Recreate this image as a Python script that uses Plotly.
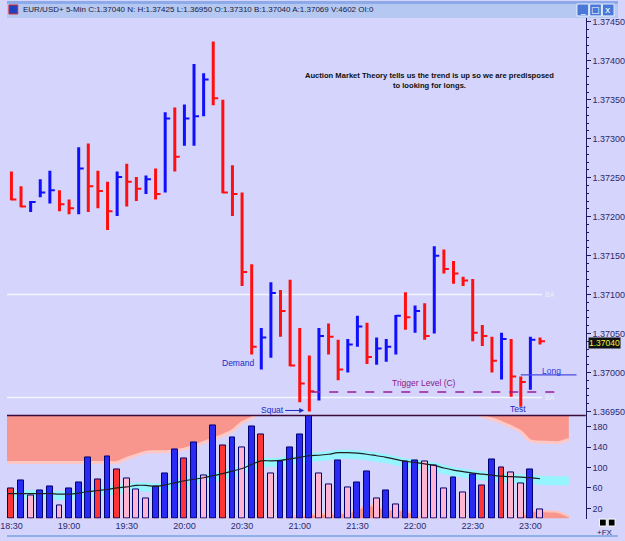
import plotly.graph_objects as go
import pandas as pd

# ---------------- data ----------------
start = pd.Timestamp("2011-05-24 18:30")
bar_step = pd.Timedelta(minutes=5)

high = [1.37258, 1.37239, 1.37220, 1.37248, 1.37259, 1.37234, 1.37222, 1.37289, 1.37294, 1.37259,
        1.37245, 1.37258, 1.37268, 1.37251, 1.37253, 1.37262, 1.37334, 1.37340, 1.37344, 1.37396,
        1.37384, 1.37425, 1.37350, 1.37266, 1.37231, 1.37139, 1.37057, 1.37116, 1.37106, 1.37119,
        1.37057, 1.37022, 1.37057, 1.37063, 1.37042, 1.37043, 1.37073, 1.37064, 1.37045, 1.37043,
        1.37074, 1.37103, 1.37086, 1.37089, 1.37162, 1.37158, 1.37143, 1.37123, 1.37120, 1.37061,
        1.37046, 1.37051, 1.37043, 1.36995, 1.37046, 1.37045]
low = [1.37221, 1.37212, 1.37206, 1.37225, 1.37217, 1.37207, 1.37203, 1.37203, 1.37206, 1.37211,
       1.37183, 1.37201, 1.37213, 1.37220, 1.37229, 1.37222, 1.37231, 1.37258, 1.37291, 1.37291,
       1.37329, 1.37343, 1.37230, 1.37201, 1.37111, 1.37023, 1.37004, 1.37019, 1.37046, 1.37008,
       1.36962, 1.36950, 1.36964, 1.37023, 1.36990, 1.37000, 1.37033, 1.37011, 1.37010, 1.37014,
       1.37023, 1.37055, 1.37051, 1.37042, 1.37050, 1.37127, 1.37114, 1.37111, 1.37040, 1.37034,
       1.37000, 1.36991, 1.36969, 1.36956, 1.36978, 1.37036]
close = [1.37222, 1.37213, 1.37219, 1.37231, 1.37234, 1.37216, 1.37211, 1.37262, 1.37239, 1.37233,
         1.37207, 1.37251, 1.37245, 1.37236, 1.37248, 1.37229, 1.37326, 1.37277, 1.37326, 1.37329,
         1.37376, 1.37352, 1.37231, 1.37229, 1.37129, 1.37033, 1.37045, 1.37102, 1.37079, 1.37009,
         1.36986, 1.36976, 1.37047, 1.37046, 1.37004, 1.37036, 1.37059, 1.37020, 1.37031, 1.37033,
         1.37073, 1.37071, 1.37079, 1.37047, 1.37150, 1.37133, 1.37127, 1.37118, 1.37051, 1.37047,
         1.37015, 1.37043, 1.36995, 1.36988, 1.37042, 1.37040]

volume = [58, 75, 45, 55, 63, 26, 58, 71, 119, 76,
          121, 97, 79, 57, 39, 63, 88, 136, 117, 150,
          84, 182, 143, 158, 139, 180, 164, 88, 112, 139,
          164, 210, 88, 67, 113, 60, 70, 92, 39, 55,
          27, 112, 113, 111, 104, 59, 80, 51, 86, 64,
          116, 100, 90, 68, 97, 18]
volume_ma = [49, 49, 49, 49, 49, 48, 48, 50, 53, 55,
             57, 60, 62, 65, 65, 63, 66, 70, 74, 77,
             80, 84, 88, 93, 98, 106, 113, 113, 114, 117,
             120, 123, 124, 126, 129, 129, 128, 126, 123, 120,
             116, 112, 110, 107, 104, 99, 95, 92, 89, 87,
             85, 83, 82, 81, 80, 78]
# glow band around the average (extends 3 bars further)
volume_glow = [47, 47, 47, 46, 46, 45, 45, 47, 50, 52,
               54, 57, 59, 62, 62, 60, 63, 67, 71, 74,
               77, 81, 85, 90, 95, 103, 110, 110, 111, 114,
               117, 120, 121, 123, 126, 126, 125, 123, 120, 117,
               113, 109, 107, 104, 101, 96, 92, 89, 86, 84,
               82, 80, 79, 78, 77, 75, 74, 74, 74]
# upper envelope (shaded from top down to it), 210 = above panel
band_upper = [110, 110, 110, 110, 110, 110, 110, 110, 110, 110,
              110, 110, 118, 124, 130, 131, 131, 133, 136, 142,
              149, 156, 163, 172, 188, 197, 210, 210, 210, 210,
              210, 210, 210, 210, 210, 210, 210, 210, 210, 210,
              210, 210, 210, 210, 210, 210, 210, 210, 210, 200,
              195, 188, 180, 170, 152, 150, 149, 149, 155]
# lower envelope (shaded from zero up to it), -5 = below panel
band_lower = [-5, -5, -5, -5, -5, -5, -5, -5, -5, -5,
              -5, -5, -5, -5, -5, -5, -5, -5, -5, -5,
              -5, -5, -5, -5, -5, -5, -5, -5, -5, 4,
              6, 8, 9, 9, 10, 12, 18, 26, 24, 18,
              17, 15, 8, -5, -5, -5, -5, -5, -5, -5,
              -5, -5, -5, 4, 14, 15, 14, 12, 4]

ba_levels = [1.37100, 1.36968]
trigger_level = 1.36975
long_level = 1.36997
price_ticks = [1.36950, 1.37000, 1.37050, 1.37100, 1.37150, 1.37200, 1.37250, 1.37300, 1.37350, 1.37400, 1.37450]
volume_ticks = [20, 60, 100, 140, 180]
header_text = "EUR/USD+ 5-Min C:1.37040 N: H:1.37425 L:1.36950 O:1.37310 B:1.37040 A:1.37069 V:4602 OI:0"

# ---------------- derived ----------------
n = len(close)
times = [start + bar_step * i for i in range(n)]
band_times = [start + bar_step * i for i in range(len(band_upper))]
W, H = 625, 541
x_lo = start - pd.Timedelta(minutes=2.3)
x_hi = start + pd.Timedelta(minutes=298.8)


def px(x):
    return x / W


def py(y):
    return 1 - y / H


def extend_left(xs, ys):
    # carry the first value to the left edge of the plot
    return [x_lo] + list(xs), [ys[0]] + list(ys)


RED = "#FF1010"
BLUE = "#1010FF"

up = [False] + [close[i] >= close[i - 1] for i in range(1, n)]

fig = go.Figure()

# price bars
tick_len = pd.Timedelta(minutes=2.6)
for color, flag in ((RED, False), (BLUE, True)):
    vx, vy, tx, ty = [], [], [], []
    for i in range(n):
        if up[i] != flag:
            continue
        vx += [times[i], times[i], None]
        vy += [low[i], high[i], None]
        tx += [times[i], times[i] + tick_len, None]
        ty += [close[i], close[i], None]
    fig.add_trace(go.Scatter(x=vx, y=vy, mode="lines", line=dict(color=color, width=3),
                             xaxis="x", yaxis="y", hoverinfo="skip", showlegend=False))
    fig.add_trace(go.Scatter(x=tx, y=ty, mode="lines", line=dict(color=color, width=2),
                             xaxis="x", yaxis="y", hoverinfo="skip", showlegend=False))

# volume panel background layers (y2)
VTOP = 210
bx_up, by_up = extend_left(band_times, band_upper)
bx_lo, by_lo = extend_left(band_times, band_lower)
gx, gy = extend_left(band_times, volume_glow)
fig.add_trace(go.Scatter(x=bx_up, y=[VTOP] * len(bx_up), mode="lines",
                         line=dict(width=0), xaxis="x", yaxis="y2", showlegend=False, hoverinfo="skip"))
fig.add_trace(go.Scatter(x=bx_up, y=by_up, mode="lines", fill="tonexty",
                         fillcolor="#F8968E", line=dict(color="#FFC8C4", width=3, shape="spline"),
                         xaxis="x", yaxis="y2", showlegend=False, hoverinfo="skip"))
fig.add_trace(go.Scatter(x=bx_lo, y=by_lo, mode="lines", fill="tozeroy",
                         fillcolor="#F8968E", line=dict(color="#FFC0B8", width=2, shape="spline"),
                         xaxis="x", yaxis="y2", showlegend=False, hoverinfo="skip"))
fig.add_trace(go.Scatter(x=gx, y=gy, mode="lines",
                         line=dict(color="rgba(130,255,255,0.75)", width=9, shape="spline"),
                         xaxis="x", yaxis="y2", showlegend=False, hoverinfo="skip"))

# volume bars (y3 overlays y2, drawn above)
vcolors = []
for i in range(n):
    if i == 0:
        vcolors.append("#FF3535")
    elif volume[i] > volume[i - 1]:
        vcolors.append("#2A2AF5")
    elif i >= 2 and volume[i] > volume[i - 2]:
        vcolors.append("#FF3535")
    else:
        vcolors.append("#FFB4D2")
fig.add_trace(go.Bar(x=times, y=volume, width=183000, marker=dict(color=vcolors, line=dict(color="#000070", width=1)),
                     xaxis="x", yaxis="y3", showlegend=False, hoverinfo="skip"))
mx, my = extend_left(times, volume_ma)
fig.add_trace(go.Scatter(x=mx, y=my, mode="lines", line=dict(color="#202020", width=1.2, shape="spline"),
                         xaxis="x", yaxis="y3", showlegend=False, hoverinfo="skip"))

# ---------------- layout ----------------
p_lo, p_hi = 1.369449, 1.374551
AX = "#1A1A60"
font_ax = dict(family="Liberation Sans, Arial", size=9, color="#2A2A70")

fig.update_layout(
    width=W, height=H, margin=dict(l=0, r=0, t=0, b=0),
    paper_bgcolor="#D4D4FC", plot_bgcolor="#D4D4FC",
    bargap=0, showlegend=False,
    xaxis=dict(type="date", domain=[0, px(592)], range=[x_lo, x_hi], anchor="y2",
               tickformat="%H:%M", dtick=1800000, tick0=start, showgrid=False, zeroline=False,
               showline=False, ticks="", tickfont=font_ax, ticklabeloverflow="allow"),
    yaxis=dict(domain=[py(416), py(17)], range=[p_lo, p_hi], side="right", anchor="x",
               tickvals=price_ticks, tickformat=".5f", ticks="outside", ticklen=4, tickcolor=AX,
               showline=True, linecolor=AX, linewidth=1, showgrid=False, zeroline=False,
               tickfont=font_ax,
               minor=dict(dtick=0.0001, tick0=1.3695, ticks="outside", ticklen=2, tickcolor=AX)),
    yaxis2=dict(domain=[py(519.5), py(416)], range=[0, 201.9], side="right", anchor="x",
                tickvals=volume_ticks, ticks="outside", ticklen=4, tickcolor=AX,
                showline=True, linecolor=AX, linewidth=1, showgrid=False, zeroline=False, tickfont=font_ax),
    yaxis3=dict(overlaying="y2", range=[0, 201.9], side="right", anchor="x", visible=False),
)

shapes = []
# header bar
shapes.append(dict(type="rect", xref="paper", yref="paper", x0=0, x1=1, y0=py(17), y1=1,
                   fillcolor="#B4C8F2", line=dict(width=0), layer="above"))
shapes.append(dict(type="rect", xref="paper", yref="paper", x0=0, x1=1, y0=py(3), y1=1,
                   fillcolor="#8CAAE8", line=dict(width=0), layer="above"))
# window buttons
for bxp in (583, 596, 609):
    shapes.append(dict(type="rect", xref="paper", yref="paper", x0=px(bxp), x1=px(bxp + 12), y0=py(15), y1=py(3),
                       fillcolor="#4A78D8", line=dict(color="#E8F0FF", width=1), layer="above"))
# icon
shapes.append(dict(type="rect", xref="paper", yref="paper", x0=px(2), x1=px(11), y0=py(13), y1=py(4),
                   fillcolor="#2040C0", line=dict(color="#E02020", width=1), layer="above"))
# BA lines
for lv in ba_levels:
    shapes.append(dict(type="line", xref="x", yref="y", x0=x_lo, x1=start + pd.Timedelta(minutes=276),
                       y0=lv, y1=lv, line=dict(color="#F4F4FF", width=1.5), layer="below"))
# trigger level
shapes.append(dict(type="line", xref="x", yref="y", x0=times[31] + pd.Timedelta(minutes=1),
                   x1=start + pd.Timedelta(minutes=285), y0=trigger_level, y1=trigger_level,
                   line=dict(color="#9A1A9A", width=1.3, dash="dash")))
# long line
shapes.append(dict(type="line", xref="x", yref="y", x0=times[53], x1=start + pd.Timedelta(minutes=294),
                   y0=long_level, y1=long_level, line=dict(color="#4A4AE0", width=1.3)))
# panel separator
shapes.append(dict(type="line", xref="paper", yref="paper", x0=0, x1=px(592), y0=py(416), y1=py(416),
                   line=dict(color="#3A0A3A", width=1.5)))
# bottom border
shapes.append(dict(type="line", xref="paper", yref="paper", x0=0, x1=1, y0=py(537), y1=py(537),
                   line=dict(color="#8EB0E8", width=2)))
for bxp in (606, 615):
    shapes.append(dict(type="rect", xref="paper", yref="paper", x0=px(bxp), x1=px(bxp + 7), y0=py(527), y1=py(520),
                       fillcolor="#000000", line=dict(color="#FFFFFF", width=1)))
fig.update_layout(shapes=shapes)

ann = []


def note(text, x, y, font, **kw):
    d = dict(text=text, xref="paper", yref="paper", x=px(x), y=py(y), xanchor="center", yanchor="middle",
             showarrow=False, font=font)
    d.update(kw)
    ann.append(d)


note(header_text, 14, 9, dict(family="Liberation Sans, Arial", size=8, color="#202040"), xanchor="left")
for bxp, g in ((583, "_"), (596, "□"), (609, "x")):
    note(g, bxp + 6, 9, dict(family="DejaVu Sans", size=9, color="#FFFFFF"))
note("<b>Auction Market Theory tells us the trend is up so we are predisposed<br>to looking for longs.</b>",
     432, 80, dict(family="Liberation Sans, Arial", size=7.6, color="#101010"), align="center")
blue_txt = dict(family="Liberation Sans, Arial", size=8.5, color="#1A2AC8")
note("Demand", 236, 363, blue_txt)
note("Test", 523, 410, blue_txt)
note("Long", 557, 371, dict(family="Liberation Sans, Arial", size=8.5, color="#2A3AE8"))
note("Trigger Level (C)", 427, 383, dict(family="Liberation Sans, Arial", size=8.5, color="#8A1A8A"))
note("Squat", 304, 411, blue_txt, showarrow=True, ax=-32, ay=0, arrowhead=2, arrowsize=1,
     arrowwidth=1, arrowcolor="#1A2AC8")
for lv in ba_levels:
    ann.append(dict(text="BA", xref="paper", yref="y", x=px(555), y=lv, xanchor="center", yanchor="middle",
                    showarrow=False, font=dict(family="Liberation Sans, Arial", size=7, color="#EEEEFA")))
ann.append(dict(text=f"{close[-1]:.5f}", xref="paper", yref="y", x=px(594), y=close[-1], xanchor="left",
                yanchor="middle", yshift=-2, showarrow=False, bgcolor="#111111", borderpad=0,
                font=dict(family="Liberation Sans, Arial", size=8.5, color="#F0F040")))
note("+FX", 612, 533, dict(family="Liberation Sans, Arial", size=8, color="#1A1A60"))
fig.update_layout(annotations=ann)

fig.write_html("out.html")
